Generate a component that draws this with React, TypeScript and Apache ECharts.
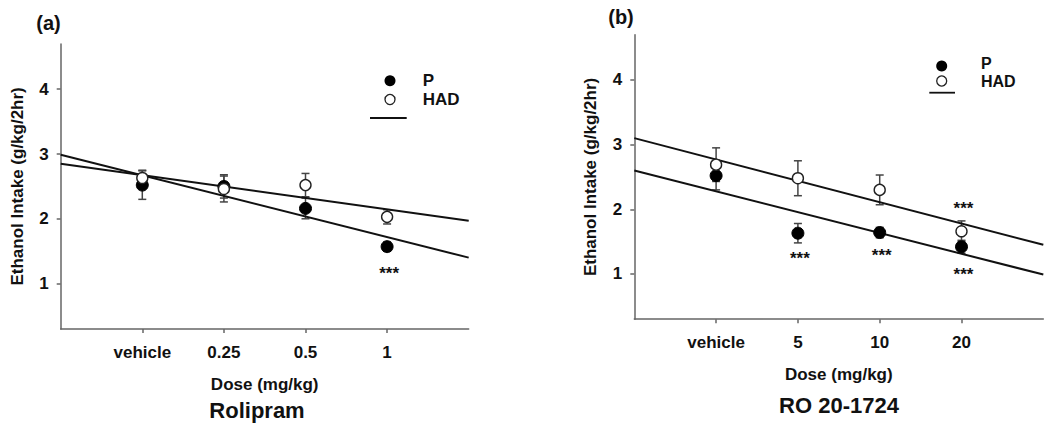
import React, { useEffect, useRef } from "react";
import * as echarts from "echarts";

// ---- Data ----
const catsA = ["vehicle", "0.25", "0.5", "1"];
const catsB = ["vehicle", "5", "10", "20"];
const catPos = [1, 2, 3, 4];

const pMeanA = [2.52, 2.5, 2.16, 1.57];
const pErrA = [0.22, 0.18, 0.16, 0.07];
const hadMeanA = [2.63, 2.46, 2.52, 2.03];
const hadErrA = [0.12, 0.2, 0.18, 0.11];

const pMeanB = [2.52, 1.63, 1.64, 1.42];
const pErrB = [0.22, 0.15, 0.08, 0.1];
const hadMeanB = [2.69, 2.48, 2.3, 1.66];
const hadErrB = [0.26, 0.27, 0.23, 0.16];

// regression line end points [x, y]
const pFitA = [[0, 2.99], [5, 1.4]];
const hadFitA = [[0, 2.85], [5, 1.97]];
const pFitB = [[0, 2.6], [5, 0.99]];
const hadFitB = [[0, 3.1], [5, 1.45]];

// significance marks [x, y]
const starsA = [[4, 1.22]];
const starsB = [[2, 1.3], [3, 1.34], [4, 2.08], [4, 1.06]];

const yTicks = [1, 2, 3, 4];

const FONT = "'Liberation Sans', Arial, sans-serif";
const AXIS_COLOR = "#666";

function App() {
  const ref = useRef<HTMLDivElement>(null);
  useEffect(() => {
    if (!ref.current) return;
    const chart = echarts.init(ref.current, undefined, { renderer: "svg" });

    const toPts = (means: number[]) => means.map((m, i) => [catPos[i], m]);
    const toErr = (means: number[], errs: number[]) =>
      means.map((m, i) => [catPos[i], m - errs[i], m + errs[i]]);

    const xAxis = (idx: number, cats: string[]) => ({
      type: "value",
      gridIndex: idx,
      min: 0,
      max: 5,
      splitLine: { show: false },
      axisLine: { show: true, lineStyle: { color: AXIS_COLOR, width: 1.5 } },
      axisTick: { show: true, customValues: catPos, length: 4, lineStyle: { color: AXIS_COLOR, width: 1.5 } },
      axisLabel: {
        customValues: catPos,
        formatter: (v: number) => cats[Math.round(v) - 1] ?? "",
        fontFamily: FONT,
        fontWeight: "bold",
        fontSize: 17,
        color: "#111",
        margin: 15,
      },
      name: "Dose (mg/kg)",
      nameLocation: "middle",
      nameGap: 47,
      nameTextStyle: { fontFamily: FONT, fontWeight: "bold", fontSize: 17, color: "#111" },
    });

    const yAxis = (idx: number) => ({
      type: "value",
      gridIndex: idx,
      min: 0.3,
      max: 4.7,
      splitLine: { show: false },
      axisLine: { show: true, lineStyle: { color: AXIS_COLOR, width: 1.5 } },
      axisTick: { show: true, customValues: yTicks, length: 4, lineStyle: { color: AXIS_COLOR, width: 1.5 } },
      axisLabel: {
        customValues: yTicks,
        fontFamily: FONT,
        fontWeight: "bold",
        fontSize: 17,
        color: "#111",
        margin: 12,
      },
      name: "Ethanol Intake (g/kg/2hr)",
      nameLocation: "middle",
      nameGap: 35,
      nameTextStyle: { fontFamily: FONT, fontWeight: "bold", fontSize: 17, color: "#111" },
    });

    const lineSeries = (idx: number, data: number[][]) => ({
      type: "line",
      xAxisIndex: idx,
      yAxisIndex: idx,
      data,
      symbol: "none",
      clip: false,
      lineStyle: { color: "#111", width: 2 },
      z: 2,
    });

    const errSeries = (idx: number, data: number[][]) => ({
      type: "custom",
      xAxisIndex: idx,
      yAxisIndex: idx,
      data,
      z: 1,
      renderItem: (params: any, api: any) => {
        const x = api.value(0);
        const lo = api.coord([x, api.value(1)]);
        const hi = api.coord([x, api.value(2)]);
        const w = 4;
        const style = { stroke: "#444", lineWidth: 1.5 };
        return {
          type: "group",
          children: [
            { type: "line", shape: { x1: lo[0], y1: lo[1], x2: hi[0], y2: hi[1] }, style },
            { type: "line", shape: { x1: lo[0] - w, y1: lo[1], x2: lo[0] + w, y2: lo[1] }, style },
            { type: "line", shape: { x1: hi[0] - w, y1: hi[1], x2: hi[0] + w, y2: hi[1] }, style },
          ],
        };
      },
    });

    const scatterSeries = (idx: number, data: number[][], filled: boolean) => ({
      type: "scatter",
      xAxisIndex: idx,
      yAxisIndex: idx,
      data,
      symbol: "circle",
      symbolSize: filled ? 12 : 11,
      itemStyle: filled
        ? { color: "#000", borderColor: "#000", borderWidth: 1, opacity: 1 }
        : { color: "#fff", borderColor: "#222", borderWidth: 1.4, opacity: 1 },
      emphasis: { disabled: true },
      z: filled ? 10 : 11,
    });

    const starSeries = (idx: number, data: number[][]) => ({
      type: "custom",
      xAxisIndex: idx,
      yAxisIndex: idx,
      data,
      z: 12,
      renderItem: (params: any, api: any) => {
        const p = api.coord([api.value(0), api.value(1)]);
        return {
          type: "text",
          x: p[0] + 2,
          y: p[1] + 4,
          style: {
            text: "***",
            fontFamily: FONT,
            fontWeight: "bold",
            fontSize: 17,
            fill: "#111",
            align: "center",
            verticalAlign: "middle",
          },
        };
      },
    });

    const txt = (x: number, y: number, text: string, size: number, align = "center") => ({
      type: "text",
      x,
      y,
      style: {
        text,
        fontFamily: FONT,
        fontWeight: "bold",
        fontSize: size,
        fill: "#111",
        align,
        verticalAlign: "middle",
      },
    });

    const legend = (cx: number, yP: number, yH: number, lx1: number, lx2: number, ly: number, tx: number, tyP: number, tyH: number, fs: number) => [
      { type: "circle", shape: { cx, cy: yP, r: 5.5 }, style: { fill: "#000" } },
      { type: "circle", shape: { cx, cy: yH, r: 5 }, style: { fill: "#fff", stroke: "#222", lineWidth: 1.3 } },
      { type: "line", shape: { x1: lx1, y1: ly, x2: lx2, y2: ly }, style: { stroke: "#111", lineWidth: 1.8 } },
      txt(tx, tyP, "P", fs, "left"),
      txt(tx, tyH, "HAD", fs, "left"),
    ];

    chart.setOption({
      animation: false,
      backgroundColor: "#fff",
      grid: [
        { left: 60.7, top: 43.9, width: 408, height: 285 },
        { left: 634.3, top: 34.7, width: 409, height: 284.5 },
      ],
      xAxis: [xAxis(0, catsA), xAxis(1, catsB)],
      yAxis: [yAxis(0), yAxis(1)],
      series: [
        errSeries(0, toErr(pMeanA, pErrA)),
        errSeries(0, toErr(hadMeanA, hadErrA)),
        errSeries(1, toErr(pMeanB, pErrB)),
        errSeries(1, toErr(hadMeanB, hadErrB)),
        lineSeries(0, pFitA),
        lineSeries(0, hadFitA),
        lineSeries(1, pFitB),
        lineSeries(1, hadFitB),
        scatterSeries(0, toPts(pMeanA), true),
        scatterSeries(0, toPts(hadMeanA), false),
        scatterSeries(1, toPts(pMeanB), true),
        scatterSeries(1, toPts(hadMeanB), false),
        starSeries(0, starsA),
        starSeries(1, starsB),
      ],
      graphic: [
        txt(48.5, 23, "(a)", 20),
        txt(621, 17, "(b)", 20),
        txt(257, 410, "Rolipram", 22),
        txt(839, 405, "RO 20-1724", 22),
        ...legend(390, 80.7, 99.5, 370, 406.7, 118, 422.7, 80.7, 99.5, 17),
        ...legend(941.7, 66, 81, 929.3, 955, 92.7, 981, 63, 81, 16),
      ],
    });
    return () => chart.dispose();
  }, []);
  return (
    <div
      ref={ref}
      style={{ position: "absolute", left: 0, top: 0, width: 1050, height: 430 }}
    />
  );
}

export default App;
